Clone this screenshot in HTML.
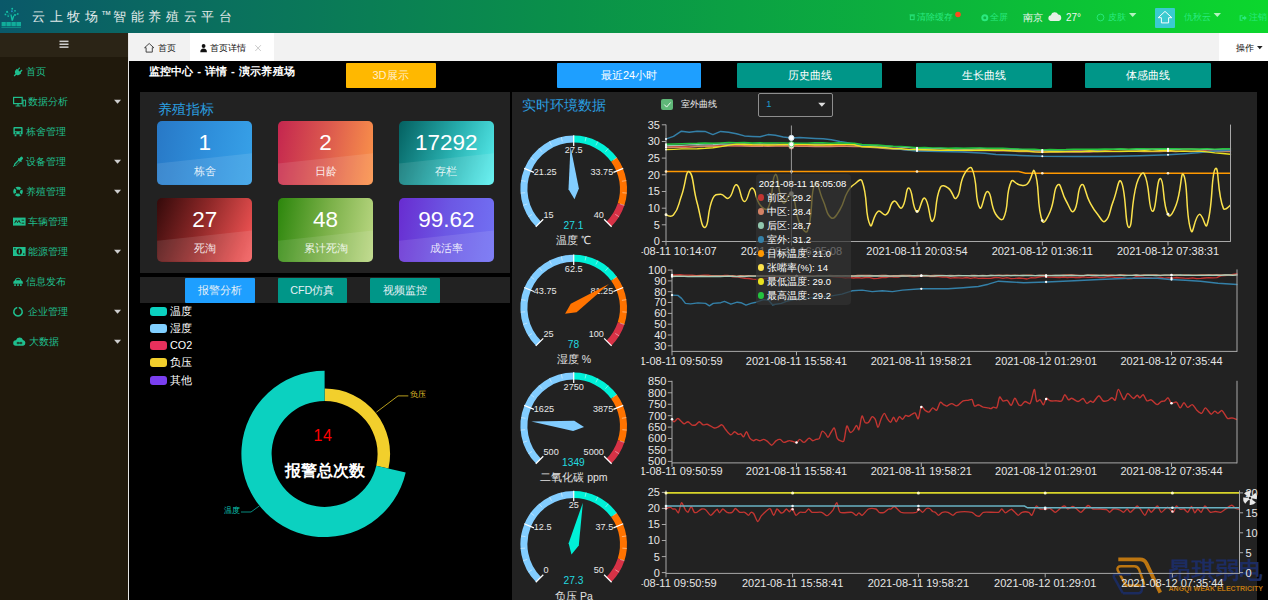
<!DOCTYPE html>
<html lang="zh"><head><meta charset="utf-8"><title>云上牧场 智能养殖云平台</title>
<style>
*{box-sizing:border-box;margin:0;padding:0}
html,body{width:1268px;height:600px;overflow:hidden;background:#000}
body{position:relative;font-family:"Liberation Sans",sans-serif;color:#fff;font-size:12px}
.abs{position:absolute}
.t{position:absolute;white-space:nowrap;line-height:1}
#hdr{left:0;top:0;width:1268px;height:33px;background:linear-gradient(90deg,#0a5869 0%,#0a735c 20%,#0a9149 45%,#0caf3e 70%,#0cd72d 100%)}
#side{left:0;top:33px;width:128px;height:567px;background:#20190c}
#sidetop{left:0;top:33px;width:128px;height:24px;background:#2b2416}
#vline{left:128px;top:33px;width:1px;height:567px;background:#e6e6e6}
#tabbar{left:128px;top:33px;width:1140px;height:28px;background:#f2f2f2}
#tabact{left:190px;top:33px;width:84px;height:28px;background:#fff}
#oper{left:1219px;top:33px;width:49px;height:28px;background:#fff}
.nav{color:#1fbe8e;font-size:10px}
.btn{position:absolute;border-radius:1px;text-align:center;white-space:nowrap}
.panel{position:absolute;background:#222}
.card{position:absolute;width:95px;height:64px;border-radius:5px;overflow:hidden}
.card i{position:absolute;left:0;top:0;width:95px;height:64px;background:rgba(255,255,255,.10);clip-path:polygon(0 67%,100% 51%,100% 100%,0 100%)}
.card b{position:absolute;left:0;width:95px;top:9.2px;text-align:center;font-weight:400;font-size:22.5px;line-height:26px;color:#fff}
.card s{position:absolute;left:0;width:95px;top:44px;text-align:center;text-decoration:none;font-size:11px;line-height:13px;color:rgba(255,255,255,.88)}
.lg{position:absolute;left:150px;width:17px;height:9px;border-radius:3px}
.lgt{position:absolute;left:170px;font-size:10.8px;line-height:14px;color:#fff;white-space:nowrap}
svg{position:absolute;left:0;top:0;overflow:visible}
svg text{font-family:"Liberation Sans",sans-serif}
</style></head>
<body>
<div id="hdr" class="abs"></div>
<svg width="1268" height="33" viewBox="0 0 1268 33">
<g fill="#14bfa6">
 <path d="M12.2 20.6L11 14.6M12.3 20.6L13.7 15.8" stroke="#14bfa6" stroke-width="1.3" fill="none"/>
 <circle cx="12.2" cy="8.8" r="0.95"/><circle cx="7.1" cy="11.9" r="1.05"/><circle cx="15" cy="10.8" r="0.9"/>
 <circle cx="11.9" cy="11.2" r="0.95" fill="#2293c4"/>
 <circle cx="5.4" cy="14.4" r="0.85"/><circle cx="17.8" cy="13.9" r="0.85"/><circle cx="15" cy="15" r="1.05"/><circle cx="8.2" cy="16.1" r="0.85"/>
 <path d="M8 12.6L10.6 14.4M14.4 11.6L13 13.4M6.3 14.8L9.6 15M17 14.2L15.8 14.6" stroke="#0e8f86" stroke-width=".6" fill="none"/>
 <path d="M1.6 22h4.2v4.2h-4.2zM6.4 22h4.4v4.2h-4.4zM11.4 22h4.4v4.2h-4.4zM16.4 22h4.6v4.2h-4.6z" opacity=".82"/>
 <rect x="1.4" y="27.2" width="19.6" height="0.8" opacity=".6"/>
</g>
</svg>
<div class="t" style="left:32px;top:9.6px;font-size:13.4px;letter-spacing:4.56px;color:#e2eaea">云上牧场<span style="font-size:10.5px;letter-spacing:1.8px;margin-left:-1.2px;position:relative;top:-2.6px">™</span>智能养殖云平台</div>
<svg width="1268" height="33" viewBox="0 0 1268 33">
<g fill="none" stroke="#2aea80" stroke-width=".9">
 <rect x="910.3" y="15.8" width="3.8" height="3.9"/><path d="M909.5 14.9h5.4"/>
 <circle cx="1100.5" cy="17.5" r="3.4"/>
</g>
<circle cx="984.8" cy="17.7" r="3.5" fill="#2aea80"/><circle cx="984.8" cy="17.7" r="1.5" fill="#10b542"/>
<circle cx="958" cy="14.5" r="2.8" fill="#ff4a1c"/>
<path d="M1050.5 20.9a2.9 2.9 0 0 1 .4-5.7a3.9 3.9 0 0 1 7.3-.6a3.2 3.2 0 0 1 .6 6.3z" fill="#e6f0e6"/>
<path d="M1129 13h7.4l-3.7 4z" fill="#b4f2c0"/>
<path d="M1213.6 13h7.4l-3.7 4z" fill="#b4f2c0"/>
<rect x="1155" y="8" width="20" height="20" rx="1" fill="#3acbd0"/>
<path d="M1165 11.4l6.8 6.3h-3.2v5.2h-7.2v-5.2h-3.2z" fill="none" stroke="#fff" stroke-width=".95" stroke-linejoin="round"/>
<path d="M1239.6 15.2h3v1.1h-1.9v3.4h1.9v1.1h-3zM1242.3 16.9h1.9v-1.5l2.6 2.6-2.6 2.6v-1.5h-1.9z" fill="#2aea80"/>
</svg>
<div class="t" style="left:917px;top:13.2px;font-size:9px;color:#2aea80">清除缓存</div>
<div class="t" style="left:990px;top:13.2px;font-size:9px;color:#2aea80">全屏</div>
<div class="t" style="left:1023px;top:12.6px;font-size:10px;color:#f4f8f4">南京</div>
<div class="t" style="left:1066px;top:12.6px;font-size:10px;color:#eef6ee">27°</div>
<div class="t" style="left:1108px;top:13.2px;font-size:9px;color:#2aea80">皮肤</div>
<div class="t" style="left:1184px;top:13.2px;font-size:9px;color:#2aea80">仇秋云</div>
<div class="t" style="left:1249px;top:13.2px;font-size:9px;color:#2aea80">注销</div>
<div id="side" class="abs"></div><div id="sidetop" class="abs"></div>
<svg width="128" height="600" viewBox="0 0 128 600"><g fill="#cfcfcf"><rect x="59.5" y="40.6" width="9" height="1.5"/><rect x="59.5" y="43.5" width="9" height="1.5"/><rect x="59.5" y="46.4" width="9" height="1.5"/></g></svg>
<div class="t nav" style="left:26px;top:66.8px">首页</div>
<div class="t nav" style="left:28.3px;top:96.8px">数据分析</div>
<div class="t nav" style="left:26px;top:126.8px">栋舍管理</div>
<div class="t nav" style="left:26px;top:156.8px">设备管理</div>
<div class="t nav" style="left:26px;top:186.8px">养殖管理</div>
<div class="t nav" style="left:28.3px;top:216.8px">车辆管理</div>
<div class="t nav" style="left:28.3px;top:246.8px">能源管理</div>
<div class="t nav" style="left:26px;top:276.8px">信息发布</div>
<div class="t nav" style="left:28.3px;top:306.8px">企业管理</div>
<div class="t nav" style="left:29px;top:336.8px">大数据</div>
<svg width="128" height="600" viewBox="0 0 128 600"><g transform="translate(13,66.6)" fill="#1fbe8e"><path d="M6.2 0.6l1 1-1.9 1.9 1.3 1.3 1.9-1.9 1 1-1.9 1.9 .7.7c-1.6 2.2-3.3 2.6-5 1.6l-1.7 1.7-.9-.9 1.7-1.7c-1-1.7-.6-3.4 1.6-5l.7.7z"/></g><path d="M114 99.8h7l-3.5 4z" fill="#cfcfcf"/><g transform="translate(13,96.6)" fill="none" stroke="#1fbe8e" stroke-width="1.2"><rect x="0.6" y="0.8" width="8.6" height="6.2"/><path d="M2.6 9.4h4.8M5 7v2.4" /><rect x="10" y="3.6" width="2.6" height="5.8" stroke-width="1"/></g><g transform="translate(13,126.6)" fill="#1fbe8e"><path d="M1.4 0.5h7.2a1 1 0 0 1 1 1v6.2h-9.2v-6.2a1 1 0 0 1 1-1zM1.8 2v2.6h6.4v-2.6zM2 5.6v1.2h1.4v-1.2zM6.6 5.6v1.2h1.4v-1.2z" fill-rule="evenodd"/><rect x="1.6" y="7.9" width="1.8" height="1.8"/><rect x="6.6" y="7.9" width="1.8" height="1.8"/></g><path d="M114 159.8h7l-3.5 4z" fill="#cfcfcf"/><g transform="translate(13,156.6)" fill="#1fbe8e"><path d="M7.6 0.3a1.6 1.6 0 0 1 2.2 2.2l-1.5 1.5.6.6-.9.9-.6-.6-4.2 4.2-1.8.4-.9.9-.6-.6.9-.9.4-1.8 4.2-4.2-.6-.6.9-.9.6.6zM5.9 4.2l-3.6 3.6-.2 1 1-.2 3.6-3.6z" fill-rule="evenodd"/></g><path d="M114 189.8h7l-3.5 4z" fill="#cfcfcf"/><g transform="translate(13,186.6)"><circle cx="5" cy="5" r="3.5" fill="none" stroke="#1fbe8e" stroke-width="2.6"/><circle cx="5" cy="5" r="3.5" fill="none" stroke="#20190c" stroke-width="2.8" stroke-dasharray="1.2 4.3" stroke-dashoffset="3.3"/></g><g transform="translate(13,217.4)" fill="#1fbe8e"><rect x="0" y="0.2" width="12.6" height="8"/><path d="M1.6 5.8l1.6-2.8 1.3 2.2 1.5-2.2 1.4 2.8" stroke="#20190c" stroke-width=".9" fill="none"/><path d="M8.6 2.8h2.6M8.6 5.8h2.6" stroke="#20190c" stroke-width=".8"/></g><path d="M114 249.8h7l-3.5 4z" fill="#cfcfcf"/><g transform="translate(13,246.8)"><rect x="0" y="0.2" width="12.6" height="9" fill="#1fbe8e"/><ellipse cx="6.3" cy="4.7" rx="2.7" ry="3.1" fill="#20190c"/><rect x="5.7" y="2.8" width="1.3" height="3.8" fill="#1fbe8e"/><rect x="1.2" y="1.5" width="1.4" height="1.3" fill="#20190c"/><rect x="10" y="6.6" width="1.4" height="1.3" fill="#20190c"/></g><g transform="translate(13,277.1)" fill="#1fbe8e"><path d="M1.9 3.4c.5-2 1.4-2.8 3.2-2.8s2.8.8 3.2 2.8c1 .3 1.5.9 1.5 1.9v1.3h-9.5v-1.3c0-1 .6-1.6 1.6-1.9zM3 3.2h4.3c-.3-1.1-1-1.5-2.15-1.5s-1.8.4-2.15 1.5z" fill-rule="evenodd"/><rect x="1.2" y="7.2" width="1.7" height="1.6"/><rect x="4.1" y="7.2" width="1.7" height="1.6"/><rect x="7" y="7.2" width="1.7" height="1.6"/></g><path d="M114 309.8h7l-3.5 4z" fill="#cfcfcf"/><g transform="translate(13,306.6)"><path d="M6.3 1.2a4.2 4.2 0 1 1-2.6 0" fill="none" stroke="#1fbe8e" stroke-width="1.5" stroke-linecap="round"/></g><path d="M114 339.8h7l-3.5 4z" fill="#cfcfcf"/><g transform="translate(13,337.1)"><path d="M2.8 8.6a2.7 2.7 0 0 1 .2-5.4a3.7 3.7 0 0 1 7-.4a3 3 0 0 1 .3 5.8z" fill="#1fbe8e"/><path d="M4.2 5.3h1.6v1.3h-1.6zM7.2 5.3h1.6v1.3h-1.6zM5.8 5.95h1.4" stroke="#20190c" stroke-width=".8" fill="none"/></g></svg>
<div id="tabbar" class="abs"></div><div id="tabact" class="abs"></div><div id="oper" class="abs"></div><div id="vline" class="abs"></div>
<svg width="1268" height="62" viewBox="0 0 1268 62">
<path d="M149.2 43.5l-4.6 4.2h1.5v4.4h6.2v-4.4h1.5z" fill="none" stroke="#333" stroke-width=".9" stroke-linejoin="round"/>
<g fill="#111"><circle cx="203.6" cy="46" r="1.9"/><path d="M200.3 52.2c0-2.7 1.2-3.8 3.3-3.8s3.3 1.1 3.3 3.8z"/></g>
<path d="M255.3 45.2l5.6 5.8M260.9 45.2l-5.6 5.8" stroke="#c4c4c4" stroke-width=".9"/>
<path d="M1257 46h5.6l-2.8 3.2z" fill="#222"/>
</svg>
<div class="t" style="left:158px;top:43.6px;font-size:9px;color:#222">首页</div>
<div class="t" style="left:210px;top:43.6px;font-size:9.2px;color:#111">首页详情</div>
<div class="t" style="left:1236px;top:43.6px;font-size:9px;color:#111">操作</div>
<div class="t" style="left:148.5px;top:65.6px;font-size:11.4px;letter-spacing:.33px;font-weight:700;color:#fff">监控中心 - 详情 - 演示养殖场</div>
<div class="btn" style="left:345.5px;top:62.5px;width:90px;height:25.5px;line-height:25.5px;background:#ffb800;color:rgba(255,255,255,.8);font-size:11px">3D展示</div>
<div class="btn" style="left:557px;top:62.5px;width:144px;height:25.5px;line-height:25.5px;background:#1e9fff;color:#fff;font-size:11px">最近24小时</div>
<div class="btn" style="left:737px;top:62.5px;width:145px;height:25.5px;line-height:25.5px;background:#009688;color:#fff;font-size:11px">历史曲线</div>
<div class="btn" style="left:916px;top:62.5px;width:136px;height:25.5px;line-height:25.5px;background:#009688;color:#fff;font-size:11px">生长曲线</div>
<div class="btn" style="left:1084.5px;top:62.5px;width:126.5px;height:25.5px;line-height:25.5px;background:#009688;color:#fff;font-size:11px">体感曲线</div>
<div class="panel" style="left:140px;top:92px;width:369.6px;height:181px"></div>
<div class="t" style="left:157.5px;top:101.5px;font-size:14px;color:#2a9fe0">养殖指标</div>
<div class="card" style="left:157.2px;top:120.7px;background:linear-gradient(100deg,#2878c6 0%,#2f90dc 55%,#38a2e8 100%)"><i></i><b>1</b><s>栋舍</s></div>
<div class="card" style="left:278px;top:120.7px;background:linear-gradient(100deg,#c4264f 0%,#dc5a4e 50%,#fb944a 100%)"><i></i><b>2</b><s>日龄</s></div>
<div class="card" style="left:398.8px;top:120.7px;background:linear-gradient(112deg,#046060 0%,#27aeae 52%,#5cf2f2 100%)"><i></i><b>17292</b><s>存栏</s></div>
<div class="card" style="left:157.2px;top:197.8px;background:linear-gradient(112deg,#340a0a 0%,#8e2828 45%,#e04c4c 85%,#f46060 100%)"><i></i><b>27</b><s>死淘</s></div>
<div class="card" style="left:278px;top:197.8px;background:linear-gradient(100deg,#2c860c 0%,#7ab048 50%,#bcd884 100%)"><i></i><b>48</b><s>累计死淘</s></div>
<div class="card" style="left:398.8px;top:197.8px;background:linear-gradient(100deg,#682cd0 0%,#6c58e4 50%,#7272f4 100%)"><i></i><b>99.62</b><s>成活率</s></div>
<div class="panel" style="left:140px;top:277px;width:369.6px;height:26px"></div>
<div class="btn" style="left:185.4px;top:277.5px;width:69.5px;height:25px;line-height:25px;background:#1e9fff;color:#e6f0f6;font-size:10.8px">报警分析</div>
<div class="btn" style="left:277.5px;top:277.5px;width:69.5px;height:25px;line-height:25px;background:#009688;color:#e6f0f6;font-size:10.8px">CFD仿真</div>
<div class="btn" style="left:370px;top:277.5px;width:69.5px;height:25px;line-height:25px;background:#009688;color:#e6f0f6;font-size:10.8px">视频监控</div>
<div class="lg" style="top:306.7px;background:#0bd1c0"></div><div class="lgt" style="top:303.7px">温度</div>
<div class="lg" style="top:323.9px;background:#80cfff"></div><div class="lgt" style="top:320.9px">湿度</div>
<div class="lg" style="top:341.2px;background:#e8305c"></div><div class="lgt" style="top:338.2px">CO2</div>
<div class="lg" style="top:358.4px;background:#f2cf2c"></div><div class="lgt" style="top:355.4px">负压</div>
<div class="lg" style="top:375.7px;background:#7a3ff0"></div><div class="lgt" style="top:372.7px">其他</div>
<svg width="520" height="600" viewBox="0 0 520 600"><path d="M324.60 388.40A65.5 65.5 0 0 1 388.46 468.48L376.27 465.69A53.0 53.0 0 0 0 324.60 400.90Z" fill="#f2cf2c"/><path d="M405.71 472.41A83.2 83.2 0 1 1 324.60 370.70L324.60 400.90A53.0 53.0 0 1 0 376.27 465.69Z" fill="#0bd1c0"/><path d="M376.4 412.2L398 395.9H408.3" fill="none" stroke="#b89e1c" stroke-width="1"/><path d="M259.5 505.8L251 512H241" fill="none" stroke="#078a7f" stroke-width="1"/></svg>
<div class="t" style="left:410px;top:391.1px;font-size:8.2px;color:#e6c52a">负压</div>
<div class="t" style="left:224px;top:507px;font-size:8px;color:#0bc4b4">温度</div>
<div class="t" style="left:273px;width:100px;text-align:center;top:428.2px;font-size:16px;color:#f00;letter-spacing:.5px">14</div>
<div class="t" style="left:264.6px;width:120px;text-align:center;top:461.5px;font-size:16.4px;font-weight:700;color:#fff">报警总次数</div>
<div class="panel" style="left:512px;top:92px;width:745.2px;height:508px"></div>
<div class="t" style="left:521.5px;top:97.5px;font-size:14px;color:#2a9fe0">实时环境数据</div>
<div class="abs" style="left:661.3px;top:98.7px;width:12px;height:11.6px;border-radius:2px;background:#5fb878"></div>
<svg width="1268" height="130" viewBox="0 0 1268 130"><path d="M664.3 104.6l2.3 2.5 4-4.6" fill="none" stroke="#eefaf0" stroke-width="1"/><path d="M818.2 102.7h7.3l-3.65 4.1z" fill="#dedede"/></svg>
<div class="t" style="left:680.5px;top:100.2px;font-size:9.1px;color:#ececec">室外曲线</div>
<div class="abs" style="left:757.9px;top:92.6px;width:74.8px;height:24.4px;border:1px solid #8e8e8e;border-radius:2px"></div>
<div class="t" style="left:766.3px;top:100.3px;font-size:9.3px;color:#1e9fcf">1</div>
<svg width="1268" height="600" viewBox="0 0 1268 600"><g fill="none" stroke-linejoin="round"><path d="M1118.3 559.4H1140Q1144.6 559.4 1146.6 563.6L1160.3 592.6" stroke="#bd7611" stroke-width="3.7"/><path d="M1125.8 585.4L1117.6 570Q1116.6 566.3 1121 566.3H1134.3Q1137.8 566.3 1139.2 569.8L1143.9 582.8Q1144.6 585.4 1142 585.4Z" stroke="#bd7611" stroke-width="2.5"/><path d="M1122.8 593.2L1114 577.4Q1112.8 574.3 1116 574.3H1131M1142.8 584L1141.6 590.8Q1141 593.2 1138.4 593.2H1122.8" stroke="#1b2b5e" stroke-width="2.5"/></g><text x="1169" y="578.3" font-size="22.5" font-weight="700" fill="#1c2c62" textLength="93" lengthAdjust="spacingAndGlyphs">昂琪弱电</text><text x="1168.5" y="591" font-size="6.5" font-weight="700" fill="#bd7611" textLength="94.5" lengthAdjust="spacingAndGlyphs">ANGQI WEAK ELECTRICITY</text></svg>
<svg width="1268" height="600" viewBox="0 0 1268 600"><path d="M538.49 224.11A49.80 49.80 0 0 1 573.70 139.10" fill="none" stroke="#82cdff" stroke-width="7.0"/><path d="M573.70 139.10A49.80 49.80 0 0 1 613.99 159.63" fill="none" stroke="#00f0d7" stroke-width="7.0"/><path d="M613.99 159.63A49.80 49.80 0 0 1 621.06 204.29" fill="none" stroke="#ff7300" stroke-width="7.0"/><path d="M621.06 204.29A49.80 49.80 0 0 1 608.91 224.11" fill="none" stroke="#d73246" stroke-width="7.0"/><path d="M528.25 216.75L532.09 214.40M523.01 205.37L527.29 203.98M520.56 193.08L525.05 192.73M521.06 180.56L525.50 181.27M530.58 157.57L534.22 160.22M539.08 148.37L542.01 151.79M549.50 141.41L551.55 145.42M561.26 137.07L562.31 141.45M586.14 137.07L585.09 141.45M597.90 141.41L595.85 145.42M608.32 148.37L605.39 151.79M616.82 157.57L613.18 160.22M626.34 180.56L621.90 181.27M626.84 193.08L622.35 192.73M624.39 205.37L620.11 203.98M619.15 216.75L615.31 214.40" stroke="rgba(255,255,255,.55)" stroke-width=".8" fill="none"/><path d="M535.80 226.80L543.29 219.31M524.18 168.39L533.97 172.44M573.70 135.30L573.70 145.90M623.22 168.39L613.43 172.44M611.60 226.80L604.11 219.31" stroke="#fff" stroke-width="1.25" fill="none"/><text x="543.55" y="217.55" font-size="9.1" fill="#e8e8e8" text-anchor="start">15</text><text x="533.79" y="174.87" font-size="9.1" fill="#e8e8e8" text-anchor="start">21.25</text><text x="573.70" y="153.00" font-size="9.1" fill="#e8e8e8" text-anchor="middle">27.5</text><text x="613.21" y="174.87" font-size="9.1" fill="#e8e8e8" text-anchor="end">33.75</text><text x="603.85" y="217.55" font-size="9.1" fill="#e8e8e8" text-anchor="end">40</text><path d="M574.48 199.27L578.89 188.51L570.49 146.42L568.51 189.29Z" fill="#82cdff"/><text x="573.40" y="228.60" font-size="10.2" fill="#22dce0" text-anchor="middle">27.1</text><text x="573.90" y="244.30" font-size="10.5" fill="#e2e2e2" text-anchor="middle">温度 ℃</text><path d="M538.49 343.21A49.80 49.80 0 0 1 573.70 258.20" fill="none" stroke="#82cdff" stroke-width="7.0"/><path d="M573.70 258.20A49.80 49.80 0 0 1 613.99 278.73" fill="none" stroke="#00f0d7" stroke-width="7.0"/><path d="M613.99 278.73A49.80 49.80 0 0 1 621.06 323.39" fill="none" stroke="#ff7300" stroke-width="7.0"/><path d="M621.06 323.39A49.80 49.80 0 0 1 608.91 343.21" fill="none" stroke="#d73246" stroke-width="7.0"/><path d="M528.25 335.85L532.09 333.50M523.01 324.47L527.29 323.08M520.56 312.18L525.05 311.83M521.06 299.66L525.50 300.37M530.58 276.67L534.22 279.32M539.08 267.47L542.01 270.89M549.50 260.51L551.55 264.52M561.26 256.17L562.31 260.55M586.14 256.17L585.09 260.55M597.90 260.51L595.85 264.52M608.32 267.47L605.39 270.89M616.82 276.67L613.18 279.32M626.34 299.66L621.90 300.37M626.84 312.18L622.35 311.83M624.39 324.47L620.11 323.08M619.15 335.85L615.31 333.50" stroke="rgba(255,255,255,.55)" stroke-width=".8" fill="none"/><path d="M535.80 345.90L543.29 338.41M524.18 287.49L533.97 291.54M573.70 254.40L573.70 265.00M623.22 287.49L613.43 291.54M611.60 345.90L604.11 338.41" stroke="#fff" stroke-width="1.25" fill="none"/><text x="543.55" y="336.65" font-size="9.1" fill="#e8e8e8" text-anchor="start">25</text><text x="533.79" y="293.97" font-size="9.1" fill="#e8e8e8" text-anchor="start">43.75</text><text x="573.70" y="272.10" font-size="9.1" fill="#e8e8e8" text-anchor="middle">62.5</text><text x="613.21" y="293.97" font-size="9.1" fill="#e8e8e8" text-anchor="end">81.25</text><text x="603.85" y="336.65" font-size="9.1" fill="#e8e8e8" text-anchor="end">100</text><path d="M565.10 313.85L576.62 312.30L608.93 284.06L570.78 303.70Z" fill="#ff7300"/><text x="573.40" y="347.70" font-size="10.2" fill="#22dce0" text-anchor="middle">78</text><text x="573.90" y="363.40" font-size="10.5" fill="#e2e2e2" text-anchor="middle">湿度 %</text><path d="M538.49 461.11A49.80 49.80 0 0 1 573.70 376.10" fill="none" stroke="#82cdff" stroke-width="7.0"/><path d="M573.70 376.10A49.80 49.80 0 0 1 613.99 396.63" fill="none" stroke="#00f0d7" stroke-width="7.0"/><path d="M613.99 396.63A49.80 49.80 0 0 1 621.06 441.29" fill="none" stroke="#ff7300" stroke-width="7.0"/><path d="M621.06 441.29A49.80 49.80 0 0 1 608.91 461.11" fill="none" stroke="#d73246" stroke-width="7.0"/><path d="M528.25 453.75L532.09 451.40M523.01 442.37L527.29 440.98M520.56 430.08L525.05 429.73M521.06 417.56L525.50 418.27M530.58 394.57L534.22 397.22M539.08 385.37L542.01 388.79M549.50 378.41L551.55 382.42M561.26 374.07L562.31 378.45M586.14 374.07L585.09 378.45M597.90 378.41L595.85 382.42M608.32 385.37L605.39 388.79M616.82 394.57L613.18 397.22M626.34 417.56L621.90 418.27M626.84 430.08L622.35 429.73M624.39 442.37L620.11 440.98M619.15 453.75L615.31 451.40" stroke="rgba(255,255,255,.55)" stroke-width=".8" fill="none"/><path d="M535.80 463.80L543.29 456.31M524.18 405.39L533.97 409.44M573.70 372.30L573.70 382.90M623.22 405.39L613.43 409.44M611.60 463.80L604.11 456.31" stroke="#fff" stroke-width="1.25" fill="none"/><text x="543.55" y="454.55" font-size="9.1" fill="#e8e8e8" text-anchor="start">500</text><text x="533.79" y="411.87" font-size="9.1" fill="#e8e8e8" text-anchor="start">1625</text><text x="573.70" y="390.00" font-size="9.1" fill="#e8e8e8" text-anchor="middle">2750</text><text x="613.21" y="411.87" font-size="9.1" fill="#e8e8e8" text-anchor="end">3875</text><text x="603.85" y="454.55" font-size="9.1" fill="#e8e8e8" text-anchor="end">5000</text><path d="M584.04 426.98L574.24 420.73L531.33 421.49L573.16 431.07Z" fill="#82cdff"/><text x="573.40" y="465.60" font-size="10.2" fill="#22dce0" text-anchor="middle">1349</text><text x="573.90" y="481.30" font-size="10.5" fill="#e2e2e2" text-anchor="middle">二氧化碳 ppm</text><path d="M538.49 579.51A49.80 49.80 0 0 1 573.70 494.50" fill="none" stroke="#82cdff" stroke-width="7.0"/><path d="M573.70 494.50A49.80 49.80 0 0 1 613.99 515.03" fill="none" stroke="#00f0d7" stroke-width="7.0"/><path d="M613.99 515.03A49.80 49.80 0 0 1 621.06 559.69" fill="none" stroke="#ff7300" stroke-width="7.0"/><path d="M621.06 559.69A49.80 49.80 0 0 1 608.91 579.51" fill="none" stroke="#d73246" stroke-width="7.0"/><path d="M528.25 572.15L532.09 569.80M523.01 560.77L527.29 559.38M520.56 548.48L525.05 548.13M521.06 535.96L525.50 536.67M530.58 512.97L534.22 515.62M539.08 503.77L542.01 507.19M549.50 496.81L551.55 500.82M561.26 492.47L562.31 496.85M586.14 492.47L585.09 496.85M597.90 496.81L595.85 500.82M608.32 503.77L605.39 507.19M616.82 512.97L613.18 515.62M626.34 535.96L621.90 536.67M626.84 548.48L622.35 548.13M624.39 560.77L620.11 559.38M619.15 572.15L615.31 569.80" stroke="rgba(255,255,255,.55)" stroke-width=".8" fill="none"/><path d="M535.80 582.20L543.29 574.71M524.18 523.79L533.97 527.84M573.70 490.70L573.70 501.30M623.22 523.79L613.43 527.84M611.60 582.20L604.11 574.71" stroke="#fff" stroke-width="1.25" fill="none"/><text x="543.55" y="572.95" font-size="9.1" fill="#e8e8e8" text-anchor="start">0</text><text x="533.79" y="530.27" font-size="9.1" fill="#e8e8e8" text-anchor="start">12.5</text><text x="573.70" y="508.40" font-size="9.1" fill="#e8e8e8" text-anchor="middle">25</text><text x="613.21" y="530.27" font-size="9.1" fill="#e8e8e8" text-anchor="end">37.5</text><text x="603.85" y="572.95" font-size="9.1" fill="#e8e8e8" text-anchor="end">50</text><path d="M571.46 554.46L578.78 545.42L582.86 502.70L568.62 543.18Z" fill="#00f0d7"/><text x="573.40" y="584.00" font-size="10.2" fill="#22dce0" text-anchor="middle">27.3</text><text x="573.90" y="599.70" font-size="10.5" fill="#e2e2e2" text-anchor="middle">负压 Pa</text></svg>
<svg width="1268" height="600" viewBox="0 0 1268 600"><defs><clipPath id="cl"><rect x="641.5" y="0" width="640" height="600"/></clipPath></defs><path d="M666.0 147.3L673.8 146.4L681.7 146.3L689.5 146.5L697.4 146.1L705.2 145.9L713.0 145.5L720.9 145.2L728.7 145.7L736.6 145.8L744.4 145.1L752.2 145.5L760.1 145.2L767.9 146.0L775.8 145.6L783.6 145.4L791.4 145.9L799.3 145.2L807.1 145.3L815.0 146.1L822.8 146.1L830.6 145.6L838.5 145.2L846.3 145.8L854.2 146.1L862.0 146.4L869.8 147.2L877.7 147.4L885.5 147.7L893.4 148.2L901.2 148.9L909.0 149.4L916.9 149.9L924.7 149.8L932.6 150.1L940.4 150.5L948.2 149.8L956.1 150.2L963.9 150.1L971.8 150.5L979.6 149.7L987.5 149.8L995.3 150.4L1003.1 150.3L1011.0 150.2L1018.8 150.5L1026.7 150.6L1034.5 151.4L1042.3 151.3L1050.2 151.4L1058.0 151.7L1065.9 151.4L1073.7 151.0L1081.5 151.0L1089.4 151.2L1097.2 149.6L1105.1 150.0L1112.9 149.8L1120.7 149.2L1128.6 149.5L1136.4 149.7L1144.3 149.3L1152.1 149.1L1159.9 149.0L1167.8 149.3L1175.6 149.2L1183.5 149.2L1191.3 149.0L1199.1 149.3L1207.0 151.0L1214.8 150.9L1222.7 151.4L1230.5 151.4" fill="none" stroke="#c23531" stroke-width="1.3" stroke-linejoin="round" stroke-linecap="round" /><path d="M666.0 147.3L673.8 147.1L681.7 147.5L689.5 147.2L697.4 146.5L705.2 146.4L713.0 146.2L720.9 146.3L728.7 145.9L736.6 145.9L744.4 146.0L752.2 146.3L760.1 146.2L767.9 146.3L775.8 146.1L783.6 145.9L791.4 146.0L799.3 146.3L807.1 146.4L815.0 146.5L822.8 146.6L830.6 146.6L838.5 146.3L846.3 146.4L854.2 146.6L862.0 146.7L869.8 147.4L877.7 147.8L885.5 148.5L893.4 149.1L901.2 149.4L909.0 150.1L916.9 150.3L924.7 150.1L932.6 150.4L940.4 150.9L948.2 150.5L956.1 150.7L963.9 150.8L971.8 150.6L979.6 150.6L987.5 150.6L995.3 150.8L1003.1 150.5L1011.0 150.8L1018.8 151.6L1026.7 151.5L1034.5 151.9L1042.3 152.3L1050.2 152.2L1058.0 152.2L1065.9 151.8L1073.7 152.0L1081.5 151.8L1089.4 152.0L1097.2 151.6L1105.1 151.5L1112.9 151.7L1120.7 151.6L1128.6 151.3L1136.4 151.4L1144.3 151.5L1152.1 151.6L1159.9 151.5L1167.8 151.2L1175.6 151.6L1183.5 151.1L1191.3 151.6L1199.1 151.2L1207.0 151.6L1214.8 151.3L1222.7 151.5L1230.5 151.6" fill="none" stroke="#d48265" stroke-width="1.3" stroke-linejoin="round" stroke-linecap="round" /><path d="M666.0 145.8L673.8 145.4L681.7 145.3L689.5 144.9L697.4 144.6L705.2 144.8L713.0 144.6L720.9 144.0L728.7 144.2L736.6 144.2L744.4 143.8L752.2 144.1L760.1 143.9L767.9 144.2L775.8 144.1L783.6 144.5L791.4 144.2L799.3 144.1L807.1 144.3L815.0 144.2L822.8 144.2L830.6 144.6L838.5 144.2L846.3 144.3L854.2 144.7L862.0 145.3L869.8 145.2L877.7 145.9L885.5 146.2L893.4 146.6L901.2 147.2L909.0 147.6L916.9 148.4L924.7 148.3L932.6 148.6L940.4 148.4L948.2 148.6L956.1 149.2L963.9 149.2L971.8 149.1L979.6 148.5L987.5 148.8L995.3 148.6L1003.1 148.9L1011.0 149.1L1018.8 149.5L1026.7 149.8L1034.5 150.0L1042.3 150.3L1050.2 150.0L1058.0 150.1L1065.9 149.9L1073.7 149.8L1081.5 149.7L1089.4 149.8L1097.2 150.0L1105.1 149.6L1112.9 149.4L1120.7 149.4L1128.6 149.6L1136.4 149.4L1144.3 149.7L1152.1 149.2L1159.9 149.3L1167.8 149.4L1175.6 149.6L1183.5 149.2L1191.3 149.1L1199.1 149.7L1207.0 149.3L1214.8 149.6L1222.7 149.8L1230.5 149.8" fill="none" stroke="#91c7ae" stroke-width="1.3" stroke-linejoin="round" stroke-linecap="round" /><path d="M665.6 139.1L673.5 136.4L681.4 131.2L689.2 132.3L697.1 131.2L705.0 131.4L712.9 134.6L720.7 131.4L728.6 132.3L736.5 133.7L744.4 135.9L752.2 136.4L760.1 136.8L768.0 134.6L775.4 135.2L783.3 137.0L791.4 137.9L799.5 137.5L807.4 137.9L815.2 138.4L823.1 138.8L831.4 139.7L840.0 141.5L849.0 143.1L860.0 144.9L880.0 147.3L900.0 149.3L916.8 151.0L940.0 151.4L962.0 152.1L985.0 153.2L996.0 154.4L1020.0 155.4L1042.4 156.2L1075.0 156.4L1107.0 156.6L1140.0 155.8L1168.2 154.8L1185.0 153.8L1197.5 152.8L1215.5 151.0L1230.5 150.3" fill="none" stroke="#3480a8" stroke-width="1.5" stroke-linejoin="round" stroke-linecap="round" /><path d="M666 171.5H1018.7L1025.5 173.2H1230.5" fill="none" stroke="#ff9800" stroke-width="1.6"/><path d="M665.6 214.7C665.6 214.7 671.2 217.7 673.4 215.1C679.1 208.3 677.9 205.7 681.4 196.0C685.8 184.0 685.7 170.2 689.2 171.7C693.6 173.6 692.7 187.3 697.1 202.7C700.6 215.2 701.4 228.5 705.0 227.5C709.3 226.3 706.8 211.1 712.9 198.2C714.7 194.5 716.8 194.2 720.7 194.2C724.6 194.2 725.7 199.9 728.6 198.2C733.6 195.2 732.9 183.9 736.5 184.7C740.8 185.6 740.1 200.7 744.4 201.6C748.0 202.4 748.6 187.3 752.2 188.1C756.5 189.0 754.7 198.1 760.1 205.0C762.6 208.2 766.5 211.4 768.0 208.4C774.1 196.2 771.3 176.1 775.4 174.6C778.9 173.3 777.6 196.0 783.3 202.7C785.6 205.5 789.1 190.8 791.4 193.7C797.2 201.0 793.7 209.4 799.5 223.0C801.7 228.0 805.9 234.7 807.4 230.9C813.8 214.4 809.6 193.3 815.2 182.5C817.4 178.1 819.0 191.6 823.1 200.5C827.1 209.3 826.2 215.2 831.4 218.0C834.6 219.7 836.9 214.5 840.0 209.5C844.9 201.5 842.8 200.2 847.5 192.0C850.1 187.4 850.4 187.1 854.6 184.0C857.7 181.6 860.8 177.9 862.0 181.0C868.6 198.5 864.3 214.0 870.2 225.2C872.3 229.2 873.0 214.7 878.1 211.3C880.9 209.5 883.2 216.5 886.0 214.7C891.1 211.4 889.2 203.3 893.9 201.2C897.0 199.9 899.2 210.0 901.7 207.9C906.7 203.5 905.4 187.2 908.9 188.1C913.0 189.1 911.9 208.6 916.8 211.7C919.8 213.6 921.6 196.3 924.7 198.2C929.5 201.1 929.4 223.4 932.6 221.2C937.2 218.0 934.0 200.9 940.4 187.4C941.9 184.3 945.3 186.0 948.3 188.1C953.2 191.4 953.5 200.5 956.2 198.2C961.4 193.7 958.5 185.2 964.1 174.6C966.3 170.4 970.3 165.2 971.9 168.5C978.2 181.9 974.4 200.0 979.8 207.9C982.3 211.5 984.3 190.2 987.7 191.5C992.2 193.2 989.9 204.2 995.6 214.0C997.8 217.7 1001.9 221.6 1003.4 218.5C1009.7 205.3 1004.9 195.2 1011.3 181.4C1012.8 178.3 1015.1 183.9 1019.2 184.7C1022.9 185.4 1024.4 186.6 1027.0 184.3C1032.0 179.9 1032.7 167.0 1034.5 171.2C1040.4 185.4 1036.1 204.9 1042.4 221.2C1043.9 225.1 1047.7 217.2 1050.1 211.7C1055.5 199.0 1053.1 188.1 1058.0 184.7C1061.0 182.5 1061.4 192.9 1065.9 200.5C1069.3 206.2 1071.2 213.9 1073.7 211.3C1079.0 206.0 1076.9 187.6 1081.6 184.7C1084.8 182.8 1085.1 193.4 1089.5 201.6C1093.0 208.1 1092.8 208.3 1097.4 214.0C1100.7 218.1 1102.6 223.3 1105.2 221.2C1110.4 217.1 1109.2 211.4 1113.1 201.6C1117.1 191.5 1118.5 177.3 1121.0 181.4C1126.4 190.2 1124.9 226.9 1128.9 227.5C1132.7 228.0 1130.7 204.6 1136.7 183.6C1138.3 177.8 1142.3 170.5 1144.2 173.9C1150.2 184.4 1148.2 210.1 1152.5 211.3C1156.3 212.4 1156.7 177.5 1160.4 178.4C1164.5 179.4 1162.3 205.2 1168.2 215.1C1170.2 218.5 1173.9 210.9 1176.1 205.0C1181.5 190.6 1180.8 170.0 1183.5 174.6C1188.4 183.0 1185.2 215.9 1191.2 230.9C1193.1 235.8 1194.7 216.1 1199.3 214.4C1202.6 213.2 1205.4 229.5 1206.9 225.2C1213.5 206.5 1210.7 173.4 1215.5 168.5C1218.9 165.0 1217.1 193.1 1223.4 208.4C1224.6 211.4 1230.5 205.0 1230.5 205.0" fill="none" stroke="#fbe24c" stroke-width="1.5" stroke-linejoin="round"/><path d="M666.0 149.5L673.8 149.4L681.7 148.9L689.5 148.9L697.4 148.7L705.2 148.3L713.0 147.7L720.9 146.6L728.7 145.1L736.6 144.1L744.4 144.5L752.2 144.8L760.1 144.9L767.9 145.0L775.8 144.9L783.6 144.5L791.4 144.6L799.3 144.6L807.1 144.6L815.0 145.0L822.8 145.0L830.6 144.7L838.5 144.6L846.3 144.6L854.2 144.8L862.0 146.8L869.8 146.8L877.7 147.2L885.5 147.8L893.4 148.6L901.2 148.8L909.0 149.6L916.9 149.5L924.7 149.7L932.6 150.0L940.4 150.3L948.2 150.0L956.1 150.4L963.9 150.2L971.8 150.1L979.6 150.3L987.5 150.3L995.3 150.1L1003.1 150.3L1011.0 150.8L1018.8 151.0L1026.7 151.0L1034.5 151.9L1042.3 152.1L1050.2 151.7L1058.0 151.8L1065.9 151.6L1073.7 151.6L1081.5 151.6L1089.4 151.0L1097.2 151.6L1105.1 151.3L1112.9 151.4L1120.7 151.1L1128.6 151.3L1136.4 151.2L1144.3 150.8L1152.1 151.1L1159.9 150.8L1167.8 150.5L1175.6 151.1L1183.5 151.2L1191.3 151.1L1199.1 151.1L1207.0 151.9L1214.8 152.9L1222.7 153.5L1230.5 154.3" fill="none" stroke="#e8e11e" stroke-width="1.4" stroke-linejoin="round" stroke-linecap="round" /><path d="M666.0 144.2L673.8 144.0L681.7 143.7L689.5 143.4L697.4 143.3L705.2 143.0L713.0 143.3L720.9 142.9L728.7 142.4L736.6 142.6L744.4 142.5L752.2 143.0L760.1 142.8L767.9 143.0L775.8 142.9L783.6 142.9L791.4 143.2L799.3 143.1L807.1 143.1L815.0 142.8L822.8 142.8L830.6 143.2L838.5 142.8L846.3 143.2L854.2 143.1L862.0 144.5L869.8 145.0L877.7 145.0L885.5 145.8L893.4 146.3L901.2 146.4L909.0 146.9L916.9 147.8L924.7 147.5L932.6 147.9L940.4 147.9L948.2 148.3L956.1 148.0L963.9 148.2L971.8 148.0L979.6 147.9L987.5 148.2L995.3 148.1L1003.1 148.3L1011.0 148.6L1018.8 149.0L1026.7 149.1L1034.5 149.3L1042.3 149.9L1050.2 149.5L1058.0 149.6L1065.9 149.5L1073.7 149.2L1081.5 149.3L1089.4 149.3L1097.2 149.2L1105.1 149.0L1112.9 149.3L1120.7 148.7L1128.6 149.2L1136.4 148.7L1144.3 148.6L1152.1 149.0L1159.9 148.6L1167.8 148.7L1175.6 148.6L1183.5 149.0L1191.3 149.0L1199.1 149.0L1207.0 148.6L1214.8 149.1L1222.7 148.8L1230.5 148.7" fill="none" stroke="#23c33e" stroke-width="1.4" stroke-linejoin="round" stroke-linecap="round" /><path d="M666 124.6V241.8" stroke="#a8a8a8" stroke-width="1" fill="none"/><text x="659.9" y="245.4" font-size="11" fill="#e6e6e6" text-anchor="end">0</text><text x="659.9" y="228.7" font-size="11" fill="#e6e6e6" text-anchor="end">5</text><text x="659.9" y="212.1" font-size="11" fill="#e6e6e6" text-anchor="end">10</text><text x="659.9" y="195.4" font-size="11" fill="#e6e6e6" text-anchor="end">15</text><text x="659.9" y="178.7" font-size="11" fill="#e6e6e6" text-anchor="end">20</text><text x="659.9" y="162.0" font-size="11" fill="#e6e6e6" text-anchor="end">25</text><text x="659.9" y="145.4" font-size="11" fill="#e6e6e6" text-anchor="end">30</text><text x="659.9" y="128.7" font-size="11" fill="#e6e6e6" text-anchor="end">35</text><path d="M661.8 241.5H666M661.8 224.8H666M661.8 208.2H666M661.8 191.5H666M661.8 174.8H666M661.8 158.1H666M661.8 141.5H666M661.8 124.8H666" stroke="#a8a8a8" stroke-width="1" fill="none"/><path d="M1230.5 124.6V241.8" stroke="#a8a8a8" stroke-width="1"/><path d="M666 241.5H1230.5" stroke="#a8a8a8" stroke-width="1" fill="none"/><path d="M666.0 241.5v4M791.5 241.5v4M917.0 241.5v4M1042.3 241.5v4M1168.0 241.5v4" stroke="#a8a8a8" stroke-width="1" fill="none"/><text x="666.0" y="255.0" font-size="11" fill="#e6e6e6" text-anchor="middle" clip-path="url(#cl)">2021-08-11 10:14:07</text><text x="791.5" y="255.0" font-size="11" fill="#e6e6e6" text-anchor="middle" clip-path="url(#cl)">2021-08-11 16:05:08</text><text x="917.0" y="255.0" font-size="11" fill="#e6e6e6" text-anchor="middle" clip-path="url(#cl)">2021-08-11 20:03:54</text><text x="1042.3" y="255.0" font-size="11" fill="#e6e6e6" text-anchor="middle" clip-path="url(#cl)">2021-08-12 01:36:11</text><text x="1168.0" y="255.0" font-size="11" fill="#e6e6e6" text-anchor="middle" clip-path="url(#cl)">2021-08-12 07:38:31</text><circle cx="666.0" cy="139.0" r="1" fill="#fff"/><circle cx="917.0" cy="151.0" r="1" fill="#fff"/><circle cx="1042.3" cy="156.2" r="1" fill="#fff"/><circle cx="1168.0" cy="154.8" r="1" fill="#fff"/><circle cx="666.0" cy="147.3" r="1" fill="#fff"/><circle cx="917.0" cy="149.9" r="1" fill="#fff"/><circle cx="1042.3" cy="151.3" r="1" fill="#fff"/><circle cx="1168.0" cy="149.3" r="1" fill="#fff"/><circle cx="666.0" cy="147.3" r="1" fill="#fff"/><circle cx="917.0" cy="150.3" r="1" fill="#fff"/><circle cx="1042.3" cy="152.3" r="1" fill="#fff"/><circle cx="1168.0" cy="151.2" r="1" fill="#fff"/><circle cx="666.0" cy="145.8" r="1" fill="#fff"/><circle cx="917.0" cy="148.4" r="1" fill="#fff"/><circle cx="1042.3" cy="150.3" r="1" fill="#fff"/><circle cx="1168.0" cy="149.5" r="1" fill="#fff"/><circle cx="666.0" cy="149.5" r="1" fill="#fff"/><circle cx="917.0" cy="149.5" r="1" fill="#fff"/><circle cx="1042.3" cy="152.1" r="1" fill="#fff"/><circle cx="1168.0" cy="150.5" r="1" fill="#fff"/><circle cx="666.0" cy="144.2" r="1" fill="#fff"/><circle cx="917.0" cy="147.8" r="1" fill="#fff"/><circle cx="1042.3" cy="149.9" r="1" fill="#fff"/><circle cx="1168.0" cy="148.7" r="1" fill="#fff"/><circle cx="666.0" cy="171.5" r="1.3" fill="#ffe9c4"/><circle cx="791.5" cy="171.5" r="1.3" fill="#ffe9c4"/><circle cx="917.0" cy="171.5" r="1.3" fill="#ffe9c4"/><circle cx="1042.3" cy="173.2" r="1.3" fill="#ffe9c4"/><circle cx="1168.0" cy="173.2" r="1.3" fill="#ffe9c4"/><circle cx="666.0" cy="214.7" r="1.4" fill="#fffbe0"/><circle cx="917.0" cy="211.4" r="1.4" fill="#fffbe0"/><circle cx="1042.3" cy="220.6" r="1.4" fill="#fffbe0"/><circle cx="1168.0" cy="214.2" r="1.4" fill="#fffbe0"/><path d="M791.4 125.5V241" stroke="#9a9a9a" stroke-width="1"/><circle cx="791.4" cy="137.9" r="2.6" fill="#fff" stroke="#cfe2ee" stroke-width="1"/><circle cx="791.4" cy="146.6" r="2.4" fill="#f6e4dc" stroke="#d9a08a" stroke-width=".8"/><circle cx="791.4" cy="144.3" r="2.6" fill="#fff" stroke="#5fd873" stroke-width="1"/><circle cx="791.4" cy="193.7" r="2.4" fill="#fffbe0"/><path d="M672.0 275.0L676.0 275.0L680.1 274.6L684.1 275.2L688.1 275.1L692.2 275.1L696.2 275.6L700.2 275.3L704.3 275.2L708.3 275.1L712.4 276.0L716.4 275.8L720.4 276.1L724.5 275.3L728.5 275.5L732.5 276.9L736.6 276.7L740.6 277.7L744.6 278.4L748.7 278.5L752.7 279.1L756.8 279.3L760.8 278.6L764.8 278.6L768.9 278.0L772.9 277.4L776.9 277.3L781.0 276.6L785.0 276.5L789.0 275.9L793.1 276.2L797.1 275.9L801.1 276.0L805.2 275.8L809.2 276.1L813.2 276.3L817.3 275.5L821.3 275.6L825.4 275.8L829.4 276.0L833.4 276.8L837.5 277.2L841.5 277.4L845.5 278.0L849.6 277.5L853.6 278.0L857.6 277.5L861.7 278.1L865.7 277.5L869.8 277.6L873.8 278.7L877.8 278.4L881.9 277.5L885.9 277.6L889.9 276.7L894.0 277.0L898.0 277.1L902.0 276.2L906.1 276.0L910.1 276.6L914.1 276.8L918.2 276.5L922.2 275.8L926.2 276.0L930.3 276.7L934.3 276.6L938.4 276.7L942.4 277.2L946.4 277.0L950.5 278.1L954.5 277.7L958.5 277.8L962.6 278.2L966.6 277.5L970.6 278.3L974.7 277.7L978.7 278.4L982.8 278.1L986.8 278.3L990.8 278.3L994.9 277.5L998.9 277.7L1002.9 278.4L1007.0 277.7L1011.0 278.6L1015.0 278.4L1019.1 278.0L1023.1 278.3L1027.1 279.0L1031.2 277.7L1035.2 277.9L1039.2 277.0L1043.3 276.3L1047.3 277.0L1051.4 277.1L1055.4 277.4L1059.4 277.5L1063.5 277.0L1067.5 277.5L1071.5 277.1L1075.6 277.5L1079.6 277.5L1083.6 276.9L1087.7 277.4L1091.7 277.3L1095.8 276.9L1099.8 277.7L1103.8 277.7L1107.9 276.7L1111.9 276.8L1115.9 277.5L1120.0 277.5L1124.0 277.9L1128.0 278.8L1132.1 278.6L1136.1 276.7L1140.1 276.9L1144.2 277.3L1148.2 277.6L1152.2 278.0L1156.3 278.2L1160.3 277.2L1164.4 278.1L1168.4 277.6L1172.4 278.2L1176.5 277.5L1180.5 277.8L1184.5 278.2L1188.6 278.4L1192.6 277.8L1196.6 278.6L1200.7 278.4L1204.7 278.0L1208.8 277.6L1212.8 277.8L1216.8 277.7L1220.9 275.8L1224.9 275.6L1228.9 275.2L1233.0 274.4L1237.0 273.6" fill="none" stroke="#c23531" stroke-width="1.3" stroke-linejoin="round" stroke-linecap="round" /><path d="M672.0 276.0L676.0 275.8L680.1 275.8L684.1 276.1L688.1 276.2L692.2 276.0L696.2 276.0L700.2 275.7L704.3 275.8L708.3 275.8L712.4 275.8L716.4 275.8L720.4 276.0L724.5 275.9L728.5 276.0L732.5 275.6L736.6 276.1L740.6 275.6L744.6 276.0L748.7 275.7L752.7 275.9L756.8 275.8L760.8 275.6L764.8 276.0L768.9 276.0L772.9 275.5L776.9 275.8L781.0 276.0L785.0 275.5L789.0 275.5L793.1 275.9L797.1 275.8L801.1 275.9L805.2 275.8L809.2 275.6L813.2 275.9L817.3 275.6L821.3 275.9L825.4 275.9L829.4 275.5L833.4 275.7L837.5 275.7L841.5 275.6L845.5 275.7L849.6 275.7L853.6 275.9L857.6 275.5L861.7 275.4L865.7 275.3L869.8 275.5L873.8 275.7L877.8 275.7L881.9 275.5L885.9 275.5L889.9 275.8L894.0 275.7L898.0 275.6L902.0 275.5L906.1 275.4L910.1 275.5L914.1 275.8L918.2 275.3L922.2 275.5L926.2 275.5L930.3 275.6L934.3 275.5L938.4 275.5L942.4 275.3L946.4 275.7L950.5 275.4L954.5 275.6L958.5 275.3L962.6 275.7L966.6 275.6L970.6 275.5L974.7 275.3L978.7 275.7L982.8 275.4L986.8 275.6L990.8 275.5L994.9 275.4L998.9 275.1L1002.9 275.4L1007.0 275.1L1011.0 275.5L1015.0 275.1L1019.1 275.4L1023.1 275.5L1027.1 275.2L1031.2 275.1L1035.2 275.6L1039.2 275.4L1043.3 275.2L1047.3 275.4L1051.4 275.4L1055.4 275.5L1059.4 275.5L1063.5 275.2L1067.5 275.0L1071.5 275.0L1075.6 275.2L1079.6 275.5L1083.6 275.3L1087.7 275.1L1091.7 275.0L1095.8 275.1L1099.8 275.3L1103.8 275.2L1107.9 275.2L1111.9 275.1L1115.9 275.3L1120.0 274.9L1124.0 274.9L1128.0 275.3L1132.1 275.3L1136.1 274.9L1140.1 275.3L1144.2 274.9L1148.2 275.1L1152.2 275.0L1156.3 275.0L1160.3 275.3L1164.4 275.2L1168.4 275.2L1172.4 275.0L1176.5 275.0L1180.5 275.3L1184.5 274.8L1188.6 275.1L1192.6 275.2L1196.6 275.1L1200.7 274.8L1204.7 275.0L1208.8 274.9L1212.8 274.8L1216.8 274.8L1220.9 274.9L1224.9 275.0L1228.9 274.9L1233.0 274.8L1237.0 274.8" fill="none" stroke="#d48265" stroke-width="1.3" stroke-linejoin="round" stroke-linecap="round" /><path d="M672.0 276.6L676.0 276.4L680.1 276.4L684.1 276.3L688.1 276.6L692.2 276.6L696.2 276.6L700.2 276.5L704.3 276.3L708.3 276.6L712.4 276.4L716.4 276.5L720.4 276.5L724.5 276.4L728.5 276.2L732.5 276.3L736.6 276.6L740.6 276.4L744.6 276.5L748.7 276.1L752.7 276.1L756.8 276.1L760.8 276.1L764.8 276.1L768.9 276.0L772.9 276.1L776.9 276.3L781.0 276.0L785.0 276.2L789.0 276.1L793.1 276.1L797.1 276.2L801.1 276.2L805.2 276.2L809.2 276.2L813.2 276.3L817.3 276.0L821.3 276.0L825.4 275.9L829.4 276.0L833.4 276.1L837.5 275.9L841.5 276.2L845.5 276.0L849.6 276.1L853.6 276.2L857.6 276.2L861.7 276.0L865.7 276.1L869.8 276.0L873.8 275.9L877.8 276.0L881.9 276.1L885.9 276.0L889.9 276.1L894.0 276.1L898.0 276.1L902.0 276.0L906.1 276.1L910.1 275.8L914.1 275.7L918.2 275.9L922.2 275.8L926.2 275.6L930.3 276.1L934.3 276.0L938.4 275.7L942.4 275.6L946.4 275.7L950.5 276.0L954.5 275.8L958.5 275.6L962.6 275.6L966.6 275.6L970.6 275.9L974.7 275.6L978.7 275.8L982.8 275.6L986.8 275.9L990.8 275.5L994.9 275.6L998.9 275.6L1002.9 275.8L1007.0 275.6L1011.0 275.6L1015.0 275.6L1019.1 275.7L1023.1 275.5L1027.1 275.7L1031.2 275.7L1035.2 275.7L1039.2 275.5L1043.3 275.7L1047.3 275.7L1051.4 275.7L1055.4 275.5L1059.4 275.5L1063.5 275.5L1067.5 275.7L1071.5 275.5L1075.6 275.6L1079.6 275.7L1083.6 275.7L1087.7 275.2L1091.7 275.6L1095.8 275.5L1099.8 275.5L1103.8 275.4L1107.9 275.6L1111.9 275.4L1115.9 275.4L1120.0 275.2L1124.0 275.6L1128.0 275.4L1132.1 275.3L1136.1 275.1L1140.1 275.3L1144.2 275.3L1148.2 275.2L1152.2 275.4L1156.3 275.5L1160.3 275.3L1164.4 275.1L1168.4 275.1L1172.4 275.4L1176.5 275.1L1180.5 275.0L1184.5 275.3L1188.6 275.2L1192.6 275.3L1196.6 275.3L1200.7 275.3L1204.7 275.3L1208.8 275.2L1212.8 275.4L1216.8 275.2L1220.9 275.3L1224.9 275.0L1228.9 275.0L1233.0 275.3L1237.0 274.9" fill="none" stroke="#a9cdb9" stroke-width="1.3" stroke-linejoin="round" stroke-linecap="round" /><path d="M671.5 295.1L677.9 295.4L681.6 298.4L685.4 303.4L690.5 303.9L698.0 302.9L705.6 303.4L709.4 305.9L713.2 303.4L720.8 302.7L724.5 301.4L730.9 304.2L737.2 302.2L740.9 302.7L746.0 305.2L751.0 303.4L756.1 302.2L763.7 299.6L768.7 300.4L772.5 304.7L781.3 303.4L786.4 301.4L793.9 299.6L804.0 298.4L816.7 297.1L831.8 295.9L841.9 294.1L852.0 290.8L862.1 290.1L872.2 291.6L882.3 290.8L892.4 291.6L902.5 290.1L921.4 288.8L942.8 288.8L948.0 288.8L963.1 287.8L978.3 286.5L988.4 284.2L998.5 281.2L1011.1 282.0L1023.7 282.7L1046.4 282.0L1074.2 280.7L1099.4 279.5L1129.7 278.2L1157.5 278.2L1170.1 279.5L1185.2 280.2L1200.4 281.2L1218.0 283.2L1237.0 284.5" fill="none" stroke="#3480a8" stroke-width="1.4" stroke-linejoin="round" stroke-linecap="round" /><path d="M672 269.4V351.9" stroke="#a8a8a8" stroke-width="1" fill="none"/><text x="666.4" y="349.7" font-size="11" fill="#e6e6e6" text-anchor="end">30</text><text x="666.4" y="338.9" font-size="11" fill="#e6e6e6" text-anchor="end">40</text><text x="666.4" y="328.1" font-size="11" fill="#e6e6e6" text-anchor="end">50</text><text x="666.4" y="317.3" font-size="11" fill="#e6e6e6" text-anchor="end">60</text><text x="666.4" y="306.4" font-size="11" fill="#e6e6e6" text-anchor="end">70</text><text x="666.4" y="295.6" font-size="11" fill="#e6e6e6" text-anchor="end">80</text><text x="666.4" y="284.8" font-size="11" fill="#e6e6e6" text-anchor="end">90</text><text x="666.4" y="274.0" font-size="11" fill="#e6e6e6" text-anchor="end">100</text><path d="M667.8 345.8H672M667.8 335.0H672M667.8 324.2H672M667.8 313.4H672M667.8 302.5H672M667.8 291.7H672M667.8 280.9H672M667.8 270.1H672" stroke="#a8a8a8" stroke-width="1" fill="none"/><path d="M1237 269.4V351.9" stroke="#a8a8a8" stroke-width="1"/><path d="M672 351.4H1237" stroke="#a8a8a8" stroke-width="1" fill="none"/><path d="M672.0 351.4v4M796.5 351.4v4M921.3 351.4v4M1046.1 351.4v4M1171.5 351.4v4" stroke="#a8a8a8" stroke-width="1" fill="none"/><text x="672.0" y="364.5" font-size="11" fill="#e6e6e6" text-anchor="middle" clip-path="url(#cl)">2021-08-11 09:50:59</text><text x="796.5" y="364.5" font-size="11" fill="#e6e6e6" text-anchor="middle" clip-path="url(#cl)">2021-08-11 15:58:41</text><text x="921.3" y="364.5" font-size="11" fill="#e6e6e6" text-anchor="middle" clip-path="url(#cl)">2021-08-11 19:58:21</text><text x="1046.1" y="364.5" font-size="11" fill="#e6e6e6" text-anchor="middle" clip-path="url(#cl)">2021-08-12 01:29:01</text><text x="1171.5" y="364.5" font-size="11" fill="#e6e6e6" text-anchor="middle" clip-path="url(#cl)">2021-08-12 07:35:44</text><circle cx="672.0" cy="295.1" r="1.15" fill="#fff"/><circle cx="796.5" cy="299.3" r="1.15" fill="#fff"/><circle cx="921.3" cy="288.8" r="1.15" fill="#fff"/><circle cx="1046.1" cy="282.0" r="1.15" fill="#fff"/><circle cx="1171.5" cy="279.5" r="1.15" fill="#fff"/><circle cx="672.0" cy="275.0" r="1.15" fill="#fff"/><circle cx="796.5" cy="275.9" r="1.15" fill="#fff"/><circle cx="921.3" cy="275.9" r="1.15" fill="#fff"/><circle cx="1046.1" cy="276.8" r="1.15" fill="#fff"/><circle cx="1171.5" cy="278.1" r="1.15" fill="#fff"/><circle cx="672.0" cy="276.0" r="1.15" fill="#fff"/><circle cx="796.5" cy="275.8" r="1.15" fill="#fff"/><circle cx="921.3" cy="275.5" r="1.15" fill="#fff"/><circle cx="1046.1" cy="275.3" r="1.15" fill="#fff"/><circle cx="1171.5" cy="275.0" r="1.15" fill="#fff"/><circle cx="672.0" cy="276.6" r="1.15" fill="#fff"/><circle cx="796.5" cy="276.2" r="1.15" fill="#fff"/><circle cx="921.3" cy="275.8" r="1.15" fill="#fff"/><circle cx="1046.1" cy="275.7" r="1.15" fill="#fff"/><circle cx="1171.5" cy="275.3" r="1.15" fill="#fff"/><path d="M671.5 418.7C671.5 418.7 673.2 421.8 674.1 421.7C675.1 421.7 676.7 418.5 677.9 418.5C679.0 418.5 680.5 420.8 681.6 421.7C682.4 422.4 683.4 423.8 684.2 423.8C685.2 423.8 686.9 421.6 687.9 421.7C689.2 421.9 690.5 424.2 691.7 424.8C692.7 425.2 694.5 425.4 695.5 425.0C696.8 424.5 698.2 421.8 699.3 421.7C700.4 421.7 701.8 424.3 703.1 424.8C704.1 425.1 705.8 424.1 706.9 424.3C708.1 424.5 709.5 425.5 710.7 426.0C711.8 426.6 713.3 427.9 714.4 428.0C715.5 428.2 717.1 427.3 718.2 426.8C719.4 426.3 721.1 424.4 722.0 424.8C723.4 425.3 724.6 428.4 725.8 429.8C727.2 431.4 729.3 434.5 730.9 434.9C731.9 435.1 733.5 431.9 734.6 431.8C735.7 431.8 737.2 434.0 738.4 434.4C739.1 434.6 740.3 433.5 740.9 433.8C741.9 434.3 742.8 437.1 743.5 436.9C744.5 436.5 745.6 431.7 746.5 431.8C747.5 432.0 748.5 436.5 749.8 438.1C750.6 439.2 752.4 440.4 753.6 440.7C754.3 440.8 755.3 439.4 756.1 439.4C757.2 439.4 758.7 440.7 759.9 440.7C761.0 440.7 762.6 439.3 763.7 439.4C764.8 439.5 766.4 440.7 767.4 441.4C768.8 442.4 770.5 445.3 771.7 445.2C773.1 445.1 774.7 441.7 776.3 440.7C777.2 440.0 779.0 439.2 780.1 439.4C781.3 439.7 782.6 442.2 783.8 442.4C785.2 442.6 787.4 440.8 788.9 440.7C790.0 440.5 791.6 441.1 792.7 441.4C793.8 441.7 795.5 443.0 796.5 442.7C797.6 442.4 798.7 439.4 799.7 439.4C801.0 439.4 802.8 442.6 804.0 442.4C805.6 442.2 807.5 438.5 809.1 438.1C810.2 437.9 811.7 440.4 812.9 440.7C813.7 440.8 815.0 439.7 815.9 439.4C816.9 439.1 818.6 439.4 819.2 438.6C820.5 436.9 820.9 432.3 822.2 431.3C822.8 430.8 824.7 432.7 825.5 433.6C826.4 434.6 827.3 437.5 828.0 437.4C828.8 437.3 829.7 434.3 830.5 433.1C831.6 431.5 833.6 427.4 834.3 428.0C835.6 429.1 835.8 435.9 837.4 438.6C838.1 440.0 840.5 441.0 841.9 441.4C842.5 441.6 843.7 441.2 843.9 440.7C845.2 436.6 845.7 427.7 846.9 426.0C847.6 425.2 849.0 431.4 850.2 432.3C850.8 432.8 852.6 431.3 853.2 430.6C854.4 429.3 855.6 425.6 856.5 425.5C857.3 425.4 858.4 430.5 858.8 429.8C860.0 427.7 860.8 417.4 862.1 415.9C862.7 415.2 863.8 421.1 865.1 422.5C865.7 423.1 867.7 423.1 868.4 422.5C869.8 421.3 870.9 417.3 872.2 416.7C872.9 416.3 874.7 418.2 875.2 419.2C876.4 421.4 877.1 427.3 878.0 427.3C878.9 427.3 879.9 421.6 881.0 419.2C881.8 417.4 883.3 413.5 884.3 413.4C885.2 413.3 886.3 417.0 887.3 418.5C888.2 419.7 889.7 422.4 890.6 422.2C891.6 422.0 892.7 417.3 893.6 417.2C894.4 417.1 895.3 421.8 896.2 421.7C897.1 421.7 898.3 417.1 899.4 416.7C900.2 416.4 901.6 419.4 902.5 419.2C903.5 419.0 904.6 416.0 905.7 415.4C906.5 415.1 907.9 416.4 908.8 416.2C909.8 416.0 911.0 414.7 912.1 414.2C912.9 413.7 914.5 412.4 915.1 412.9C916.3 413.8 917.5 419.4 918.1 418.7C919.4 417.5 919.9 408.3 921.4 406.6C922.0 405.8 923.9 409.4 925.2 410.4C926.2 411.1 928.0 412.5 929.0 412.1C930.3 411.7 931.5 408.2 932.7 407.9C933.8 407.6 935.8 410.9 936.5 410.4C938.0 409.3 938.9 403.5 940.3 402.3C941.0 401.8 942.6 404.0 943.6 404.6C944.5 405.1 945.7 405.9 946.6 406.1C947.0 406.2 947.6 405.5 948.0 405.3C949.1 404.8 950.6 403.5 951.8 403.6C953.3 403.7 955.4 406.2 956.8 405.8C958.9 405.3 961.0 401.8 963.1 400.8C964.5 400.1 966.7 400.5 968.2 400.3C969.3 400.1 971.3 398.9 972.0 399.5C973.2 400.7 973.3 405.1 974.5 406.1C975.2 406.7 977.2 404.7 978.3 404.8C979.8 405.0 981.8 406.6 983.3 407.1C984.8 407.5 986.9 407.6 988.4 407.9C989.2 408.0 990.2 408.7 990.9 408.6C991.7 408.5 992.6 407.2 993.4 407.1C994.4 407.0 996.3 408.6 996.7 407.9C998.2 405.5 998.4 398.4 999.7 397.0C1000.3 396.4 1001.8 400.5 1003.0 401.0C1004.1 401.5 1006.3 399.8 1007.3 400.3C1008.7 401.0 1010.1 405.6 1011.1 405.3C1012.4 405.0 1013.7 398.3 1014.9 398.3C1016.0 398.2 1017.2 403.2 1018.7 404.8C1019.1 405.4 1020.6 405.7 1021.2 405.3C1022.5 404.7 1023.7 401.8 1025.0 401.5C1026.3 401.3 1029.3 404.5 1030.0 403.6C1032.1 400.9 1033.2 389.8 1034.3 389.4C1035.2 389.2 1035.5 399.2 1036.8 401.5C1037.2 402.3 1039.4 399.4 1040.1 399.8C1041.3 400.4 1042.5 405.0 1043.4 404.8C1044.4 404.6 1045.2 399.0 1046.4 398.3C1047.2 397.8 1048.9 400.5 1050.2 400.8C1052.0 401.2 1054.6 400.7 1056.5 400.8C1058.0 400.8 1060.5 401.8 1061.6 401.0C1063.0 400.0 1063.7 394.9 1064.8 394.7C1065.8 394.6 1067.3 399.1 1068.6 399.8C1069.3 400.1 1070.8 398.1 1071.7 398.3C1073.6 398.6 1076.1 401.5 1078.0 401.5C1079.5 401.6 1081.7 398.3 1083.0 398.5C1084.4 398.8 1085.5 402.9 1086.8 403.3C1087.8 403.6 1089.4 401.2 1090.6 401.0C1091.3 400.9 1092.5 402.7 1093.1 402.3C1095.0 401.1 1097.2 396.0 1098.9 395.7C1100.2 395.6 1101.6 400.3 1103.2 401.0C1104.4 401.6 1106.9 400.8 1108.3 400.3C1109.5 399.8 1110.9 397.8 1112.0 397.8C1113.0 397.8 1114.6 400.9 1115.1 400.3C1116.5 398.4 1117.0 389.5 1118.3 389.4C1119.7 389.3 1122.2 398.8 1123.9 399.5C1125.0 400.0 1126.3 393.6 1127.7 393.5C1129.2 393.3 1131.7 398.2 1133.5 398.5C1134.6 398.7 1136.2 395.4 1137.3 395.2C1138.1 395.1 1139.0 397.8 1139.8 397.8C1140.8 397.7 1142.3 394.4 1143.1 394.7C1144.4 395.3 1145.4 399.9 1146.9 400.8C1147.8 401.4 1150.0 399.4 1151.2 399.8C1153.1 400.5 1155.2 404.3 1157.0 404.6C1158.2 404.8 1159.9 402.2 1161.2 401.5C1162.1 401.1 1163.7 401.5 1164.5 401.0C1165.7 400.4 1167.2 397.5 1168.1 397.8C1169.2 398.2 1170.0 402.6 1171.3 403.3C1172.5 403.9 1175.3 401.5 1176.4 402.1C1177.9 402.8 1179.0 407.7 1180.2 407.9C1181.3 408.0 1182.8 402.9 1184.0 402.8C1185.1 402.7 1186.4 407.1 1187.7 407.4C1188.9 407.6 1191.1 404.2 1192.3 404.6C1193.8 405.0 1195.1 408.5 1196.6 409.9C1197.9 411.1 1200.4 413.7 1201.6 413.4C1203.0 413.1 1204.1 407.8 1205.4 407.9C1207.0 408.0 1209.4 413.5 1211.2 414.2C1212.2 414.5 1213.7 411.3 1214.8 411.1C1215.7 411.0 1217.1 413.5 1218.0 413.4C1219.2 413.3 1220.9 409.9 1221.8 410.4C1223.8 411.4 1225.5 416.9 1227.6 418.5C1228.5 419.1 1230.7 417.8 1231.9 417.9C1233.5 418.2 1237.0 419.7 1237.0 419.7" fill="none" stroke="#c23531" stroke-width="1.4" stroke-linejoin="round"/><path d="M672 380.8V463.4" stroke="#a8a8a8" stroke-width="1" fill="none"/><text x="666.4" y="465.3" font-size="11" fill="#e6e6e6" text-anchor="end">500</text><text x="666.4" y="453.9" font-size="11" fill="#e6e6e6" text-anchor="end">550</text><text x="666.4" y="442.4" font-size="11" fill="#e6e6e6" text-anchor="end">600</text><text x="666.4" y="431.0" font-size="11" fill="#e6e6e6" text-anchor="end">650</text><text x="666.4" y="419.6" font-size="11" fill="#e6e6e6" text-anchor="end">700</text><text x="666.4" y="408.2" font-size="11" fill="#e6e6e6" text-anchor="end">750</text><text x="666.4" y="396.7" font-size="11" fill="#e6e6e6" text-anchor="end">800</text><text x="666.4" y="385.3" font-size="11" fill="#e6e6e6" text-anchor="end">850</text><path d="M667.8 461.4H672M667.8 450.0H672M667.8 438.5H672M667.8 427.1H672M667.8 415.7H672M667.8 404.3H672M667.8 392.8H672M667.8 381.4H672" stroke="#a8a8a8" stroke-width="1" fill="none"/><path d="M1237 380.8V463.4" stroke="#a8a8a8" stroke-width="1"/><path d="M672 462.9H1237" stroke="#a8a8a8" stroke-width="1" fill="none"/><path d="M672.0 462.9v4M796.5 462.9v4M921.3 462.9v4M1046.1 462.9v4M1171.5 462.9v4" stroke="#a8a8a8" stroke-width="1" fill="none"/><text x="672.0" y="475.0" font-size="11" fill="#e6e6e6" text-anchor="middle" clip-path="url(#cl)">2021-08-11 09:50:59</text><text x="796.5" y="475.0" font-size="11" fill="#e6e6e6" text-anchor="middle" clip-path="url(#cl)">2021-08-11 15:58:41</text><text x="921.3" y="475.0" font-size="11" fill="#e6e6e6" text-anchor="middle" clip-path="url(#cl)">2021-08-11 19:58:21</text><text x="1046.1" y="475.0" font-size="11" fill="#e6e6e6" text-anchor="middle" clip-path="url(#cl)">2021-08-12 01:29:01</text><text x="1171.5" y="475.0" font-size="11" fill="#e6e6e6" text-anchor="middle" clip-path="url(#cl)">2021-08-12 07:35:44</text><circle cx="672.0" cy="419.3" r="1.25" fill="#fff"/><circle cx="796.5" cy="442.6" r="1.25" fill="#fff"/><circle cx="921.3" cy="406.9" r="1.25" fill="#fff"/><circle cx="1046.1" cy="399.0" r="1.25" fill="#fff"/><circle cx="1171.5" cy="403.3" r="1.25" fill="#fff"/><path d="M666.0 508.5C666.0 508.5 669.3 507.2 670.3 507.2C671.0 507.3 672.1 508.8 672.8 509.0C673.4 509.2 674.9 508.7 675.3 509.0C676.2 509.6 677.9 513.3 678.4 512.8C679.4 511.7 680.6 503.1 681.6 502.7C682.4 502.4 684.3 508.1 685.4 509.8C685.9 510.5 687.4 512.6 687.9 512.3C688.9 511.7 690.4 506.5 691.2 506.5C692.0 506.5 693.3 511.2 694.3 512.3C694.6 512.7 696.2 512.5 696.8 512.3C698.1 511.7 700.5 509.4 701.8 509.0C702.7 508.8 704.9 509.2 705.6 509.8C707.1 510.8 709.4 515.4 710.7 515.3C712.2 515.2 715.5 509.7 717.0 509.3C717.7 509.0 718.8 512.8 719.5 512.8C720.3 512.8 721.9 509.1 722.8 509.0C723.8 508.9 725.9 511.9 727.1 512.3C728.2 512.7 731.1 512.8 732.1 512.3C733.2 511.8 734.5 508.5 735.4 508.5C736.4 508.5 738.4 511.8 739.7 512.3C740.8 512.7 743.6 511.9 744.7 512.3C745.8 512.7 747.6 515.3 748.5 515.3C749.2 515.3 750.3 512.5 751.0 512.3C751.6 512.1 753.2 513.0 753.6 513.5C754.9 515.3 756.7 521.3 757.9 521.6C758.6 521.9 760.2 517.3 761.1 516.1C761.9 515.0 763.9 513.2 764.9 512.3C765.8 511.4 767.7 509.6 768.7 509.0C769.1 508.8 770.2 508.7 770.5 509.0C771.5 510.3 772.9 515.3 773.8 515.3C774.6 515.3 776.0 509.4 777.0 509.0C777.8 508.7 779.8 512.2 780.8 512.8C781.3 513.1 782.8 512.6 783.3 512.3C784.2 511.7 785.6 509.1 786.4 509.0C787.1 508.9 788.7 511.8 789.4 511.8C790.1 511.7 791.6 508.2 792.2 508.5C793.2 509.1 794.8 514.7 796.0 515.3C796.7 515.7 798.7 512.6 799.7 512.3C801.0 511.9 804.1 512.7 805.3 512.3C806.3 511.9 807.7 509.0 808.6 509.0C809.4 509.0 811.0 512.0 812.1 512.3C814.3 512.8 819.5 511.8 821.7 512.3C822.9 512.6 824.9 514.8 826.0 515.3C826.4 515.5 827.6 515.6 828.0 515.3C829.4 514.2 832.0 511.3 833.1 509.8C834.2 508.1 836.1 502.4 836.8 502.7C837.8 503.0 838.4 511.2 840.1 512.3C842.2 513.6 849.2 511.8 852.0 512.3C853.2 512.5 855.3 515.2 856.3 515.3C857.0 515.4 858.1 512.8 858.8 512.8C859.6 512.8 861.3 515.6 862.1 515.3C863.7 514.7 866.5 509.9 868.4 509.0C870.0 508.3 874.3 508.5 876.0 509.0C877.0 509.3 878.2 511.9 879.2 512.3C880.3 512.7 883.2 512.7 884.3 512.3C885.5 511.9 887.4 509.6 888.6 509.0C889.1 508.7 890.6 509.2 891.1 509.0C892.0 508.6 893.6 506.2 894.4 506.5C896.1 507.0 899.2 511.7 901.2 512.3C904.6 513.2 912.9 512.9 916.3 512.3C917.3 512.1 918.2 509.0 918.9 509.0C919.7 509.0 921.7 512.3 922.6 512.3C923.6 512.2 925.3 509.1 926.4 508.5C927.1 508.1 929.0 508.2 929.7 508.5C930.6 508.9 931.9 510.9 932.7 511.5C933.3 511.9 934.7 511.9 935.3 512.3C936.2 512.9 937.7 515.3 938.5 515.3C939.5 515.3 941.2 512.6 942.3 512.3C943.6 511.9 946.7 511.9 948.0 512.3C949.4 512.7 951.8 515.3 953.0 515.3C954.0 515.3 955.7 512.5 956.8 512.3C960.4 511.7 968.4 511.7 972.0 512.3C973.1 512.5 974.7 514.8 975.8 515.3C976.6 515.7 978.8 516.4 979.5 516.1C980.6 515.6 982.1 512.5 983.3 512.3C986.8 511.6 994.9 512.9 998.5 512.3C999.6 512.1 1000.9 508.9 1001.8 509.0C1002.7 509.1 1004.5 512.8 1005.5 512.8C1006.8 512.8 1009.7 509.3 1011.1 509.3C1012.1 509.2 1014.0 511.5 1014.9 512.3C1015.7 513.0 1017.3 515.3 1018.2 515.3C1019.1 515.3 1020.8 512.6 1021.9 512.3C1023.5 511.8 1027.2 511.8 1028.8 512.3C1029.7 512.6 1031.2 515.8 1031.8 515.3C1033.1 514.2 1034.9 507.1 1036.3 506.0C1037.0 505.5 1039.0 508.6 1040.1 509.0C1041.2 509.4 1043.9 509.1 1045.2 509.0C1046.4 508.9 1049.1 508.1 1050.2 508.5C1051.6 509.0 1054.0 512.4 1055.3 512.3C1056.8 512.1 1059.9 508.4 1061.6 507.2C1062.2 506.8 1063.9 505.8 1064.6 506.0C1065.5 506.2 1067.0 508.9 1067.9 509.0C1069.0 509.1 1071.7 506.5 1072.9 506.5C1073.9 506.5 1075.8 508.3 1076.7 509.0C1077.8 509.8 1080.0 512.6 1081.0 512.3C1082.8 511.7 1086.2 506.0 1088.1 505.5C1089.2 505.2 1091.7 508.6 1093.1 509.0C1094.5 509.5 1097.8 508.9 1099.4 509.0C1101.3 509.1 1105.3 509.2 1107.0 509.8C1107.8 510.0 1108.9 512.4 1109.5 512.3C1110.4 512.2 1112.2 509.3 1113.3 509.0C1114.7 508.7 1118.1 509.3 1119.6 509.8C1120.7 510.1 1122.5 512.4 1123.4 512.3C1124.4 512.2 1126.3 509.0 1127.2 509.0C1128.0 509.0 1129.4 512.3 1130.2 512.3C1131.1 512.3 1133.1 509.8 1134.0 509.0C1134.8 508.3 1136.5 506.0 1137.3 506.0C1138.0 506.0 1139.6 508.2 1140.3 509.0C1141.5 510.5 1143.8 515.3 1144.8 515.3C1145.9 515.3 1147.6 509.5 1148.6 509.0C1149.2 508.7 1150.5 512.5 1151.2 512.3C1152.7 511.8 1156.1 506.0 1157.5 506.0C1158.6 506.0 1160.0 512.1 1161.2 512.3C1162.6 512.4 1166.0 507.2 1167.6 507.2C1169.0 507.2 1172.2 512.4 1173.4 512.3C1174.4 512.1 1175.4 506.4 1176.4 506.0C1177.1 505.7 1179.1 508.8 1180.2 509.3C1181.0 509.6 1183.1 508.7 1184.0 509.0C1185.0 509.4 1187.0 512.5 1187.7 512.3C1188.8 511.9 1190.7 506.4 1191.5 506.5C1192.4 506.5 1193.9 512.4 1194.8 512.8C1195.5 513.0 1197.0 509.1 1197.8 509.0C1198.6 508.9 1200.4 512.6 1201.1 512.3C1202.2 511.8 1203.8 506.0 1204.9 506.0C1206.2 506.0 1208.8 511.4 1210.5 512.3C1211.5 512.8 1214.2 511.5 1215.5 511.5C1216.8 511.5 1219.4 512.6 1220.6 512.3C1221.9 511.9 1224.3 509.8 1225.6 509.0C1227.2 508.0 1230.4 505.3 1231.9 505.2C1232.9 505.2 1234.6 508.0 1235.7 508.5C1236.6 509.0 1240.0 509.3 1240.0 509.3" fill="none" stroke="#c23531" stroke-width="1.35" stroke-linejoin="round"/><path d="M666 506H1024.5L1027.5 507.8H1240" fill="none" stroke="#69b3c4" stroke-width="1.5"/><path d="M666 492.9H1240" fill="none" stroke="#d8d42a" stroke-width="1.6"/><path d="M666 490.5V573.9" stroke="#a8a8a8" stroke-width="1" fill="none"/><text x="659.9" y="576.5" font-size="11" fill="#e6e6e6" text-anchor="end">0</text><text x="659.9" y="560.5" font-size="11" fill="#e6e6e6" text-anchor="end">5</text><text x="659.9" y="544.4" font-size="11" fill="#e6e6e6" text-anchor="end">10</text><text x="659.9" y="528.4" font-size="11" fill="#e6e6e6" text-anchor="end">15</text><text x="659.9" y="512.3" font-size="11" fill="#e6e6e6" text-anchor="end">20</text><text x="659.9" y="496.3" font-size="11" fill="#e6e6e6" text-anchor="end">25</text><path d="M661.8 572.6H666M661.8 556.6H666M661.8 540.5H666M661.8 524.5H666M661.8 508.4H666M661.8 492.4H666" stroke="#a8a8a8" stroke-width="1" fill="none"/><path d="M1239.5 490.5V573.9" stroke="#a8a8a8" stroke-width="1" fill="none"/><text x="1245.5" y="576.5" font-size="11" fill="#e6e6e6" text-anchor="start">0</text><text x="1245.5" y="556.6" font-size="11" fill="#e6e6e6" text-anchor="start">5</text><text x="1245.5" y="536.6" font-size="11" fill="#e6e6e6" text-anchor="start">10</text><text x="1245.5" y="516.7" font-size="11" fill="#e6e6e6" text-anchor="start">15</text><text x="1245.5" y="496.8" font-size="11" fill="#e6e6e6" text-anchor="start">20</text><path d="M1239.5 572.6H1243.1M1239.5 552.7H1243.1M1239.5 532.8H1243.1M1239.5 512.8H1243.1M1239.5 492.9H1243.1" stroke="#a8a8a8" stroke-width="1" fill="none"/><path d="M666 573.4H1239.5" stroke="#a8a8a8" stroke-width="1" fill="none"/><path d="M666.0 573.4v4M792.6 573.4v4M918.4 573.4v4M1045.2 573.4v4M1172.4 573.4v4" stroke="#a8a8a8" stroke-width="1" fill="none"/><text x="666.0" y="587.0" font-size="11" fill="#e6e6e6" text-anchor="middle" clip-path="url(#cl)">2021-08-11 09:50:59</text><text x="792.6" y="587.0" font-size="11" fill="#e6e6e6" text-anchor="middle" clip-path="url(#cl)">2021-08-11 15:58:41</text><text x="918.4" y="587.0" font-size="11" fill="#e6e6e6" text-anchor="middle" clip-path="url(#cl)">2021-08-11 19:58:21</text><text x="1045.2" y="587.0" font-size="11" fill="#e6e6e6" text-anchor="middle" clip-path="url(#cl)">2021-08-12 01:29:01</text><text x="1172.4" y="587.0" font-size="11" fill="#e6e6e6" text-anchor="middle" clip-path="url(#cl)">2021-08-12 07:35:44</text><circle cx="666.0" cy="508.5" r="1.25" fill="#ffdada"/><circle cx="666.0" cy="506.0" r="1.3" fill="#e8f6fa"/><circle cx="666.0" cy="492.9" r="1.5" fill="#fffcc0"/><circle cx="792.6" cy="509.3" r="1.25" fill="#ffdada"/><circle cx="792.6" cy="506.0" r="1.3" fill="#e8f6fa"/><circle cx="792.6" cy="492.9" r="1.5" fill="#fffcc0"/><circle cx="918.4" cy="509.6" r="1.25" fill="#ffdada"/><circle cx="918.4" cy="506.0" r="1.3" fill="#e8f6fa"/><circle cx="918.4" cy="492.9" r="1.5" fill="#fffcc0"/><circle cx="1045.2" cy="509.0" r="1.25" fill="#ffdada"/><circle cx="1045.2" cy="507.8" r="1.3" fill="#e8f6fa"/><circle cx="1045.2" cy="492.9" r="1.5" fill="#fffcc0"/><circle cx="1172.4" cy="511.4" r="1.25" fill="#ffdada"/><circle cx="1172.4" cy="507.8" r="1.3" fill="#e8f6fa"/><circle cx="1172.4" cy="492.9" r="1.5" fill="#fffcc0"/></svg>
<div class="abs" style="left:755.5px;top:173.8px;width:95px;height:131.4px;border-radius:4px;background:rgba(50,50,50,.7)"></div>
<div class="t" style="left:758.8px;top:179px;font-size:9.5px;color:#fff">2021-08-11 16:05:08</div>
<div class="abs" style="left:758.2px;top:194.4px;width:6.2px;height:6.2px;border-radius:50%;background:#c23531"></div>
<div class="t" style="left:767.3px;top:192.6px;font-size:9.5px;color:#fff">前区: 29.2</div>
<div class="abs" style="left:758.2px;top:208.4px;width:6.2px;height:6.2px;border-radius:50%;background:#d48265"></div>
<div class="t" style="left:767.3px;top:206.6px;font-size:9.5px;color:#fff">中区: 28.4</div>
<div class="abs" style="left:758.2px;top:222.4px;width:6.2px;height:6.2px;border-radius:50%;background:#91c7ae"></div>
<div class="t" style="left:767.3px;top:220.6px;font-size:9.5px;color:#fff">后区: 28.7</div>
<div class="abs" style="left:758.2px;top:236.4px;width:6.2px;height:6.2px;border-radius:50%;background:#3480a8"></div>
<div class="t" style="left:767.3px;top:234.6px;font-size:9.5px;color:#fff">室外: 31.2</div>
<div class="abs" style="left:758.2px;top:250.4px;width:6.2px;height:6.2px;border-radius:50%;background:#ff9800"></div>
<div class="t" style="left:767.3px;top:248.6px;font-size:9.5px;color:#fff">目标温度: 21.0</div>
<div class="abs" style="left:758.2px;top:264.4px;width:6.2px;height:6.2px;border-radius:50%;background:#fbe24c"></div>
<div class="t" style="left:767.3px;top:262.6px;font-size:9.5px;color:#fff">张嘴率(%): 14</div>
<div class="abs" style="left:758.2px;top:278.4px;width:6.2px;height:6.2px;border-radius:50%;background:#e8e11e"></div>
<div class="t" style="left:767.3px;top:276.6px;font-size:9.5px;color:#fff">最低温度: 29.0</div>
<div class="abs" style="left:758.2px;top:292.4px;width:6.2px;height:6.2px;border-radius:50%;background:#23c33e"></div>
<div class="t" style="left:767.3px;top:290.6px;font-size:9.5px;color:#fff">最高温度: 29.2</div>
<svg width="1268" height="600" viewBox="0 0 1268 600"><g transform="translate(1250,498)" fill="#e8e8e8"><path d="M1.57 0.31L6.77 1.32A7.5 7.5 0 0 0 5.40 -5.21L1.15 -1.11Z"/><path d="M0.08 -1.60L0.36 -6.89A7.5 7.5 0 0 0 -5.91 -4.62L-1.26 -0.99Z"/><path d="M-1.59 -0.14L-6.87 -0.60A7.5 7.5 0 0 0 -4.82 5.75L-1.03 1.23Z"/><path d="M-0.08 1.60L-0.36 6.89A7.5 7.5 0 0 0 5.91 4.62L1.26 0.99Z"/><rect x="-2.1" y="-2.1" width="4.2" height="4.2" transform="rotate(-8)"/><rect x="-1.15" y="-1.15" width="2.3" height="2.3" fill="#2a2a2a" transform="rotate(-8)"/></g></svg>
</body></html>
